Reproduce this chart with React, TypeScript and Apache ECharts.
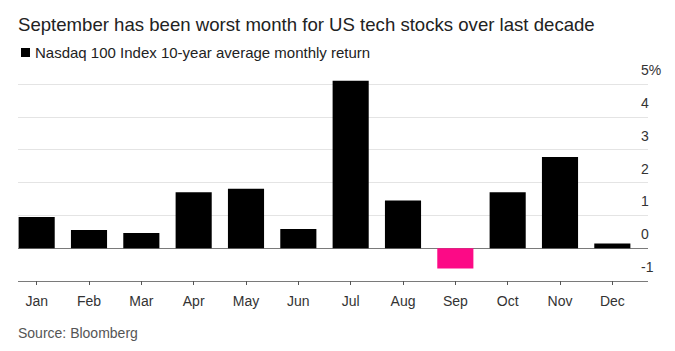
import React, { useEffect, useRef } from "react";
import * as echarts from "echarts";

const months = ["Jan", "Feb", "Mar", "Apr", "May", "Jun", "Jul", "Aug", "Sep", "Oct", "Nov", "Dec"];
const returns = [0.95, 0.55, 0.46, 1.7, 1.81, 0.58, 5.1, 1.45, -0.62, 1.7, 2.78, 0.14];
const yTicks = [-1, 0, 1, 2, 3, 4, 5];
const titleText = "September has been worst month for US tech stocks over last decade";
const seriesName = "Nasdaq 100 Index 10-year average monthly return";
const sourceText = "Source: Bloomberg";

const FONT = "'Liberation Sans', Arial, Helvetica, sans-serif";

export default function App() {
  const ref = useRef<HTMLDivElement>(null);
  useEffect(() => {
    document.body.style.margin = "0";
    if (!ref.current) return;
    const chart = echarts.init(ref.current, undefined, { renderer: "svg" });
    const top = 84;
    const height = 197;
    chart.setOption({
      animation: false,
      backgroundColor: "#ffffff",
      textStyle: { fontFamily: FONT },
      title: {
        text: titleText,
        left: 18,
        top: 15,
        padding: 0,
        textStyle: { fontSize: 18.6, fontWeight: "normal", color: "#222", fontFamily: FONT },
      },
      legend: {
        left: 21,
        top: 45,
        padding: 0,
        icon: "rect",
        itemWidth: 9,
        itemHeight: 9,
        data: [{ name: seriesName, itemStyle: { color: "#000" } }],
        textStyle: { fontSize: 15, color: "#222", fontFamily: FONT, padding: [0, 0, 0, 0] },
      },
      grid: [
        { left: 10.5, right: 36.5, top, height },
        { left: 18, right: 27, top, height },
      ],
      xAxis: [
        {
          type: "category",
          gridIndex: 0,
          data: months,
          axisLine: { show: false, onZero: false },
          axisTick: { show: true, alignWithLabel: true, length: 4, lineStyle: { color: "#555" } },
          axisLabel: { fontSize: 14, color: "#333", margin: 13, fontFamily: FONT },
        },
        { type: "value", gridIndex: 1, show: false, min: 0, max: 1 },
      ],
      yAxis: [
        { type: "value", gridIndex: 0, min: -1, max: 5, interval: 1, show: false },
        {
          type: "value",
          gridIndex: 1,
          position: "right",
          min: -1,
          max: 5,
          interval: 1,
          axisLine: { show: false },
          axisTick: { show: false },
          splitLine: {
            show: true,
            lineStyle: {
              color: ["#7a7a7a", "#7a7a7a", "#e4e4e4", "#e4e4e4", "#e4e4e4", "#e4e4e4", "#e4e4e4"],
              width: 1,
            },
          },
          axisLabel: {
            margin: -7,
            align: "left",
            verticalAlign: "bottom",
            lineHeight: 28,
            fontSize: 14,
            color: "#333",
            fontFamily: FONT,
            formatter: (v: number) => (v === yTicks[yTicks.length - 1] ? v + "%" : String(v)),
          },
        },
      ],
      series: [
        {
          name: seriesName,
          type: "bar",
          xAxisIndex: 0,
          yAxisIndex: 0,
          clip: false,
          barCategoryGap: "31%",
          itemStyle: { color: "#000" },
          data: returns.map((v) => ({
            value: v,
            itemStyle: { color: v < 0 ? "#fc0a86" : "#000" },
          })),
        },
      ],
      graphic: [
        {
          type: "text",
          left: 18,
          top: 326,
          style: { text: sourceText, fontSize: 14, fill: "#555", fontFamily: FONT },
        },
      ],
    });
    return () => chart.dispose();
  }, []);
  return (
    <div
      ref={ref}
      style={{ position: "absolute", left: 0, top: 0, width: 675, height: 351 }}
    />
  );
}
